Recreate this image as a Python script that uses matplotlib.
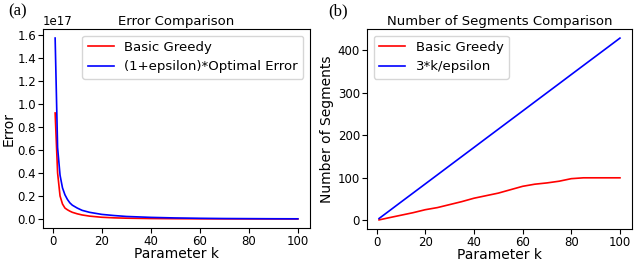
import matplotlib
matplotlib.use("Agg")
import matplotlib.pyplot as plt

# Left panel data (errors, in units of 1e17)
k_err = [1, 2, 3, 4, 5, 6, 7, 8, 10, 12, 15, 20, 25, 30, 40, 50, 60, 70, 80, 90, 100]
greedy_err = [0.92, 0.40, 0.20, 0.13, 0.095, 0.08, 0.068, 0.058, 0.045, 0.035, 0.025,
              0.015, 0.010, 0.007, 0.004, 0.0025, 0.0015, 0.001, 0.0007, 0.0005, 0.0003]
opt_err = [1.57, 0.62, 0.38, 0.27, 0.21, 0.17, 0.14, 0.12, 0.095, 0.075, 0.058,
           0.040, 0.030, 0.022, 0.014, 0.009, 0.006, 0.004, 0.003, 0.002, 0.0015]
err_ticks = [0.0, 0.2, 0.4, 0.6, 0.8, 1.0, 1.2, 1.4, 1.6]

# Right panel data (number of segments)
k_seg = [1, 5, 10, 15, 20, 25, 30, 35, 40, 45, 50, 55, 60, 65, 70, 75, 80, 85, 90, 95, 100]
greedy_seg = [1, 6, 12, 18, 25, 30, 37, 44, 52, 58, 64, 72, 80, 85, 88, 92, 98, 100, 100, 100, 100]
bound_seg = [4.3, 21.4, 42.9, 64.3, 85.7, 107.1, 128.6, 150.0, 171.4, 192.9, 214.3, 235.7,
             257.1, 278.6, 300.0, 321.4, 342.9, 364.3, 385.7, 407.1, 428.6]
k_ticks = [0, 20, 40, 60, 80, 100]

fig = plt.figure(figsize=(6.35, 2.66), dpi=100)
fs = 9.5
lfs = 10
tfs = 8.5

ax1 = fig.add_axes([43/635, 38/266, 267/635, 199/266])
ax1.plot(k_err, [v * 1e17 for v in greedy_err], color="red", lw=1.2, label="Basic Greedy")
ax1.plot(k_err, [v * 1e17 for v in opt_err], color="blue", lw=1.2, label="(1+epsilon)*Optimal Error")
ax1.set_title("Error Comparison", fontsize=fs, pad=3)
ax1.set_xlabel("Parameter k", fontsize=lfs, labelpad=-1)
ax1.set_ylabel("Error", fontsize=lfs, labelpad=1)
ax1.tick_params(labelsize=tfs, pad=1.5)
ax1.yaxis.get_offset_text().set_fontsize(tfs)
ax1.set_yticks([v * 1e17 for v in err_ticks])
ax1.legend(fontsize=fs, loc="upper right", handlelength=2)
ax1.set_xticks(k_ticks)

ax2 = fig.add_axes([367/635, 37/266, 265/635, 200/266])
ax2.plot(k_seg, greedy_seg, color="red", lw=1.2, label="Basic Greedy")
ax2.plot(k_seg, bound_seg, color="blue", lw=1.2, label="3*k/epsilon")
ax2.set_title("Number of Segments Comparison", fontsize=fs, pad=3)
ax2.set_xlabel("Parameter k", fontsize=lfs, labelpad=-1)
ax2.set_ylabel("Number of Segments", fontsize=lfs, labelpad=3)
ax2.tick_params(labelsize=tfs, pad=1.5)
ax2.legend(fontsize=fs, loc="upper left", handlelength=2)
ax2.set_xticks(k_ticks)

fig.text(8/635, 1 - 11/266, "(a)", fontsize=12, family="Liberation Serif", va="center")
fig.text(328/635, 1 - 11/266, "(b)", fontsize=12, family="Liberation Serif", va="center")

fig.savefig("out.png", dpi=100)
